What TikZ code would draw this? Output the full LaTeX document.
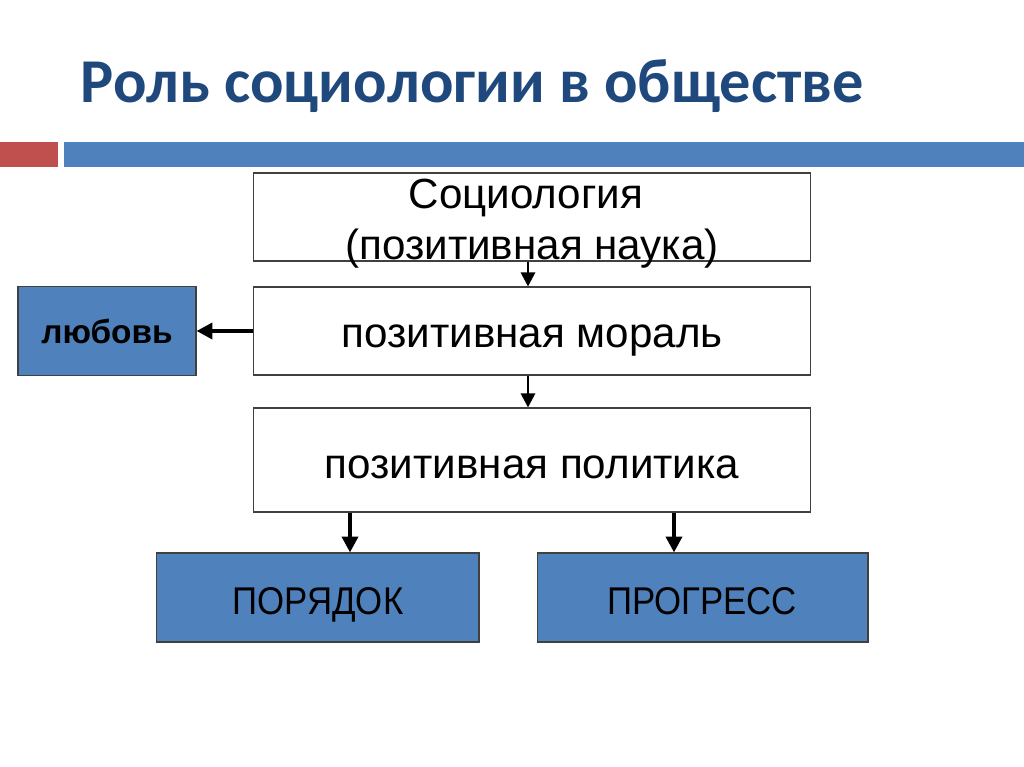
\documentclass[tikz,border=0pt]{standalone}
\usepackage{graphicx}
\usepackage{fontspec}
\setmainfont{Liberation Sans}
\newfontfamily\titlefont{Carlito}
\usetikzlibrary{positioning}
\usetikzlibrary{arrows.meta}
\definecolor{titleblue}{RGB}{31,73,125}
\definecolor{barred}{RGB}{192,80,77}
\definecolor{barblue}{RGB}{79,129,189}
\definecolor{boxline}{RGB}{64,64,64}

\begin{document}
\begin{tikzpicture}[
        x=0.02cm, y=-0.02cm,
        wbox/.style = {
        draw=boxline, line width=0.6pt, fill=white, minimum width=11.16cm, inner sep=0pt
        },
        bbox/.style = {
        draw=boxline, line width=0.6pt, fill=barblue, minimum height=1.78cm, inner sep=0pt
        },
        label/.style = {
        anchor=base, inner sep=0pt
        },
        arr/.style = {
        line width=1.6pt, -{Triangle[length=8pt, width=8pt]}
        },
        thickarr/.style = {
        line width=2.2pt, -{Triangle[length=9pt, width=9pt]}
        },
        every node/.style = {
        font=\fontsize{24}{29}\selectfont
        }
        ]
    \useasboundingbox[fill=white] (0,0) rectangle (1024,767);
    \node[anchor=base west, text=titleblue, inner sep=0pt, font=\titlefont\bfseries\fontsize{35.5}{42}\selectfont] (title) at (80,103) {Роль социологии в обществе};
    \fill[barred] (0,142) rectangle (58,167);
    \fill[barblue] (64,142) rectangle (1024,167);

    % boxes
    \node[wbox, minimum height=1.76cm] (soc) at (532,217) {};
    \node[wbox, minimum height=1.76cm] (moral) at (532,331) {};
    \node[wbox, minimum height=2.08cm] (pol) at (532,460) {};
    \node[bbox, minimum width=3.56cm] (love) at (107,331) {};
    \node[bbox, minimum width=6.46cm] (order) at (317.5,597.5) {};
    \node[bbox, minimum width=6.62cm] (progress) at (702.5,597.5) {};

    % texts
    \node[label] (soctop) at (526,208) {Социология};
    \node[label] (socbottom) at (532,259) {(позитивная наука)};
    \node[label] (moraltext) at (532,347) {позитивная мораль};
    \node[label] (poltext) at (532,478) {позитивная политика};
    \node[label, font=\bfseries\fontsize{19}{23}\selectfont] (lovetext) at (107,343) {любовь};
    \node[label, font=\fontsize{22}{26}\selectfont] (ordertext) at (318,614) {\scalebox{0.9}[1]{ПОРЯДОК}};
    \node[label, font=\fontsize{22}{26}\selectfont] (progresstext) at (702,614) {\scalebox{0.9}[1]{ПРОГРЕСС}};

    \draw[arr] (soc.south -| 528,0) -- (moral.north -| 528,0);
    \draw[arr] (moral.south -| 528,0) -- (pol.north -| 528,0);
    \draw[thickarr] (moral.west) -- (love.east);
    \draw[thickarr] (pol.south -| 350,0) -- (order.north -| 350,0);
    \draw[thickarr] (pol.south -| 674,0) -- (progress.north -| 674,0);
\end{tikzpicture}
\end{document}
